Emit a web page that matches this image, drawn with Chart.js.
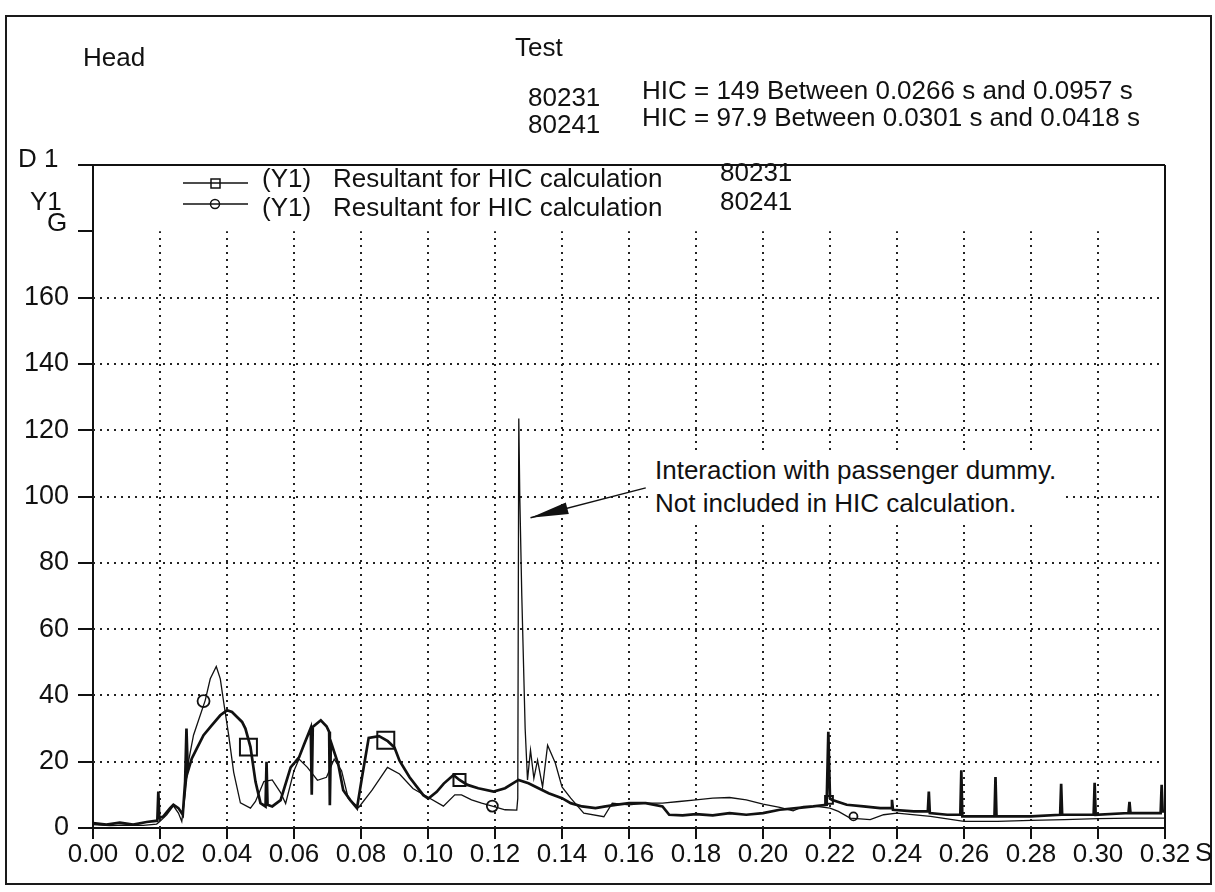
<!DOCTYPE html>
<html>
<head>
<meta charset="utf-8">
<title>Head - HIC resultant</title>
<script src="https://cdn.jsdelivr.net/npm/chart.js@4.4.1/dist/chart.umd.min.js"></script>
<style>
    body { margin: 0; background: #fff; }
    #wrap { position: relative; width: 1215px; height: 892px; background: #fff; overflow: hidden; }
    #chart { position: absolute; left: 0; top: 0; }
    .frame { position: absolute; left: 5px; top: 15px; width: 1203px; height: 866px; border: 2px solid #1a1a1a; }
    .t { position: absolute; font-family: "Liberation Sans", Arial, sans-serif; font-size: 26px; line-height: 26px; color: #111; white-space: nowrap; }
    .note { background: #fff; padding: 4px 6px 3px 6px; line-height: 33px; }
</style>
</head>
<body>
<div id="wrap">
    <canvas id="chart" width="1215" height="892"></canvas>
    <div class="frame"></div>

    <div class="t" style="left:83px; top:44px;">Head</div>
    <div class="t" style="left:515px; top:34px;">Test</div>
    <div class="t" style="left:528px; top:84px;">80231</div>
    <div class="t" style="left:642px; top:77px;">HIC = 149 Between 0.0266 s and 0.0957 s</div>
    <div class="t" style="left:528px; top:111px;">80241</div>
    <div class="t" style="left:642px; top:104px;">HIC = 97.9 Between 0.0301 s and 0.0418 s</div>

    <div class="t" style="left:18px; top:145px;">D 1</div>
    <div class="t" style="left:30px; top:188px;">Y1</div>
    <div class="t" style="left:47px; top:209px;">G</div>
    <div class="t" style="left:1195px; top:839px;">S</div>

    <div class="t" style="left:262px; top:165px;">(Y1)</div>
    <div class="t" style="left:333px; top:165px;">Resultant for HIC calculation</div>
    <div class="t" style="left:720px; top:159px;">80231</div>
    <div class="t" style="left:262px; top:194px;">(Y1)</div>
    <div class="t" style="left:333px; top:194px;">Resultant for HIC calculation</div>
    <div class="t" style="left:720px; top:188px;">80241</div>

    <div class="t note" style="left:649px; top:450px;">Interaction with passenger dummy.<br>Not included in HIC calculation.</div>
</div>

<script>
// Test 80231 - resultant head acceleration (s, G)
const t80231 = [0.000, 0.004, 0.008, 0.012, 0.016, 0.0192, 0.0195, 0.0198, 0.021, 0.023,
    0.024, 0.0255, 0.0268, 0.0275, 0.0279, 0.0283, 0.0295, 0.031, 0.033, 0.0355,
    0.038, 0.040, 0.0415, 0.043, 0.0445, 0.0455, 0.047, 0.0485, 0.050, 0.0515,
    0.0518, 0.0521, 0.0535, 0.056, 0.059, 0.0615, 0.063, 0.065, 0.0653, 0.0656,
    0.068, 0.0697, 0.0705, 0.0707, 0.071, 0.0732, 0.0747, 0.0768, 0.0788, 0.0803,
    0.0823, 0.0854, 0.088, 0.090, 0.0915, 0.0945, 0.0986, 0.1001, 0.1026, 0.1047,
    0.1076, 0.1094, 0.1118, 0.115, 0.1196, 0.123, 0.127, 0.130, 0.133, 0.136,
    0.140, 0.1426, 0.146, 0.150, 0.153, 0.156, 0.160, 0.165, 0.170, 0.172,
    0.176, 0.180, 0.185, 0.190, 0.195, 0.200, 0.205, 0.210, 0.215, 0.219,
    0.2195, 0.220, 0.2205, 0.225, 0.230, 0.235, 0.2383, 0.2385, 0.2388, 0.245,
    0.2492, 0.2495, 0.2498, 0.255, 0.2589, 0.2592, 0.2595, 0.265, 0.2691, 0.2694,
    0.2697, 0.280, 0.2887, 0.289, 0.2893, 0.2987, 0.299, 0.2993, 0.3091, 0.3094,
    0.3097, 0.3187, 0.319, 0.3193, 0.320];
const g80231 = [1.5, 1.0, 1.6, 1.0, 1.8, 2.2, 11, 3, 3.5, 6,
    7, 6, 4, 14, 30, 17, 21, 24, 28, 31,
    34, 35.5, 35, 33.5, 32, 30, 24.5, 14, 7.5, 6.5,
    20, 7, 6.5, 8.4, 18.3, 21.3, 25.2, 30.2, 10, 30.5,
    32.5, 30.7, 29, 6.9, 26, 19.3, 11.4, 8.4, 6, 15.3,
    27.2, 27.7, 26.2, 24.3, 20.3, 15.3, 9.9, 8.9, 10.9, 13.4,
    16, 14.5, 13, 12, 11, 12, 14.5, 13.5, 12, 10.5,
    9, 7.5, 6.5, 6, 6.5, 7, 7.5, 7.5, 6.5, 4,
    3.8, 4.2, 3.8, 4.5, 4, 4.5, 5.5, 6, 6.5, 7,
    29, 9, 8.5, 7, 6.5, 6, 6, 8.5, 5.5, 5,
    5, 11, 4.5, 4, 4, 17.4, 3.5, 3.5, 3.5, 15.4,
    3.5, 3.5, 4, 13.3, 4, 4, 13.6, 4, 4.5, 7.9,
    4.5, 4.5, 13, 5, 5];

// Test 80241 - resultant head acceleration (s, G)
const t80241 = [0.000, 0.005, 0.010, 0.015, 0.019, 0.020, 0.022, 0.024, 0.0255, 0.0265,
    0.0275, 0.0285, 0.030, 0.0335, 0.035, 0.0368, 0.038, 0.039, 0.0405, 0.042,
    0.044, 0.047, 0.0485, 0.051, 0.0535, 0.056, 0.0575, 0.060, 0.0615, 0.064,
    0.067, 0.0697, 0.072, 0.0742, 0.0762, 0.0793, 0.0833, 0.0879, 0.0915, 0.0955,
    0.0996, 0.1046, 0.108, 0.110, 0.113, 0.116, 0.1192, 0.123, 0.1265, 0.1268,
    0.1271, 0.1274, 0.128, 0.129, 0.1297, 0.1306, 0.1316, 0.1327, 0.1342, 0.1357,
    0.138, 0.140, 0.1426, 0.1465, 0.1525, 0.155, 0.160, 0.165, 0.170, 0.175,
    0.180, 0.185, 0.190, 0.195, 0.200, 0.205, 0.209, 0.212, 0.216, 0.220,
    0.2225, 0.226, 0.232, 0.236, 0.240, 0.250, 0.260, 0.270, 0.280, 0.290,
    0.300, 0.310, 0.320];
const g80241 = [1.0, 0.7, 0.9, 0.8, 1.2, 2, 4, 6.7, 4.5, 2,
    10, 20, 28, 38.5, 45, 48.7, 45, 38, 28, 16.8,
    7.6, 6, 8, 14, 14.5, 10.7, 7.4, 17.3, 20.8, 18.3,
    14.4, 15.3, 20.8, 17.3, 8.9, 6.2, 11.4, 18.3, 16.3, 11.9,
    9.5, 6.6, 10, 10, 8.5, 7.5, 6.6, 5.5, 5.4, 9,
    123.5, 100, 70, 30, 14.5, 23.5, 15, 20.5, 12.4, 25,
    19.6, 12.4, 9, 4.5, 3.4, 7.5, 7, 7.5, 7.5, 8,
    8.5, 9, 9.2, 8.5, 7.2, 6.2, 5.2, 6.5, 6.5, 6,
    5, 3, 2.5, 4, 4.5, 3.5, 2, 2, 2.3, 2.5,
    2.8, 3, 3];

// Symbol positions on each curve
const sqT = [0.0464, 0.0874, 0.1094, 0.2197];
const sqG = [24.4, 26.5, 14.5, 8.5];
const ciT = [0.033, 0.1192, 0.227];
const ciG = [38.3, 6.6, 3.5];

// Axis ticks and dotted grid
const gridX = [0.02, 0.04, 0.06, 0.08, 0.10, 0.12, 0.14, 0.16, 0.18, 0.20, 0.22, 0.24, 0.26, 0.28, 0.30];
const gridY = [20, 40, 60, 80, 100, 120, 140, 160];
const gridTop = 180;

// Annotation arrow (from text to the spike)
const arrowFrom = { x: 0.165, y: 102.6 };
const arrowTo = { x: 0.1306, y: 93.6 };

const ink = "#111";

function pts(xs, ys) {
    return xs.map((x, i) => ({ x: x, y: ys[i] }));
}

function drawLine(ctx, x1, y1, x2, y2) {
    ctx.beginPath();
    ctx.moveTo(x1, y1);
    ctx.lineTo(x2, y2);
    ctx.stroke();
}

// Grid, box, arrow and legend samples
const hicDecor = {
    id: "hicDecor",
    beforeDatasetsDraw(chart) {
        const { ctx, chartArea: a, scales: { x, y } } = chart;
        ctx.save();
        ctx.strokeStyle = "#222";
        ctx.lineWidth = 2;
        ctx.setLineDash([2, 5]);
        gridY.forEach(v => {
            const py = Math.round(y.getPixelForValue(v));
            drawLine(ctx, a.left, py, a.right, py);
        });
        gridX.forEach(v => {
            const px = Math.round(x.getPixelForValue(v));
            drawLine(ctx, px, y.getPixelForValue(0), px, y.getPixelForValue(gridTop));
        });
        ctx.restore();
    },
    afterDatasetsDraw(chart) {
        const { ctx, chartArea: a, scales: { x, y } } = chart;
        ctx.save();
        ctx.strokeStyle = ink;
        ctx.fillStyle = ink;
        ctx.lineWidth = 2;
        // top and right of the plot box
        drawLine(ctx, a.left, a.top, a.right, a.top);
        drawLine(ctx, a.right, a.top, a.right, a.bottom);

        // arrow
        const x1 = x.getPixelForValue(arrowFrom.x), y1 = y.getPixelForValue(arrowFrom.y);
        const x2 = x.getPixelForValue(arrowTo.x), y2 = y.getPixelForValue(arrowTo.y);
        ctx.lineWidth = 1.5;
        drawLine(ctx, x1, y1, x2, y2);
        const ang = Math.atan2(y1 - y2, x1 - x2);
        const len = 38, half = 6;
        const bx = x2 + Math.cos(ang) * len, by = y2 + Math.sin(ang) * len;
        ctx.beginPath();
        ctx.moveTo(x2, y2);
        ctx.lineTo(bx - Math.sin(ang) * half, by + Math.cos(ang) * half);
        ctx.lineTo(bx + Math.sin(ang) * half, by - Math.cos(ang) * half);
        ctx.closePath();
        ctx.fill();

        // legend samples
        ctx.lineWidth = 1.5;
        drawLine(ctx, 183, 183, 248, 183);
        ctx.strokeRect(211, 179, 9, 9);
        drawLine(ctx, 183, 204, 248, 204);
        ctx.beginPath();
        ctx.arc(215, 204, 4.5, 0, Math.PI * 2);
        ctx.stroke();
        ctx.restore();
    }
};

Chart.defaults.font.family = "'Liberation Sans', Arial, sans-serif";
Chart.defaults.color = ink;

const chartCanvas = document.getElementById("chart");
const hicChart = new Chart(chartCanvas.getContext("2d"), {
    type: "line",
    data: {
        datasets: [
            {
                label: "80231",
                data: pts(t80231, g80231),
                borderColor: ink,
                borderWidth: 2.7,
                pointRadius: 0,
                tension: 0
            },
            {
                label: "80241",
                data: pts(t80241, g80241),
                borderColor: ink,
                borderWidth: 1.3,
                pointRadius: 0,
                tension: 0
            },
            {
                label: "80231 symbols",
                data: pts(sqT, sqG),
                showLine: false,
                pointStyle: "rect",
                pointRadius: [12, 12, 8.5, 5.5],
                pointBorderWidth: 2,
                pointBorderColor: ink,
                pointBackgroundColor: "rgba(0,0,0,0)"
            },
            {
                label: "80241 symbols",
                data: pts(ciT, ciG),
                showLine: false,
                pointStyle: "circle",
                pointRadius: [6, 5.5, 4],
                pointBorderWidth: 1.8,
                pointBorderColor: ink,
                pointBackgroundColor: "rgba(0,0,0,0)"
            }
        ]
    },
    options: {
        responsive: false,
        animation: false,
        events: [],
        layout: { padding: { left: 0, top: 165, right: 50, bottom: 0 } },
        plugins: {
            legend: { display: false },
            tooltip: { enabled: false }
        },
        scales: {
            x: {
                type: "linear",
                min: 0,
                max: 0.32,
                afterFit: s => { s.height = 64; },
                grid: { drawOnChartArea: false, drawTicks: true, tickLength: 11, color: ink, lineWidth: 2 },
                border: { display: true, color: ink, width: 2 },
                ticks: {
                    stepSize: 0.02,
                    padding: 0,
                    maxRotation: 0,
                    autoSkip: false,
                    font: { size: 26 },
                    callback: v => v.toFixed(2)
                }
            },
            y: {
                min: 0,
                max: 200,
                afterFit: s => { s.width = 93; },
                grid: { drawOnChartArea: false, drawTicks: true, tickLength: 15, color: ink, lineWidth: 2 },
                border: { display: true, color: ink, width: 2 },
                ticks: {
                    stepSize: 20,
                    padding: 9,
                    autoSkip: false,
                    font: { size: 27 },
                    callback: v => (v <= 160 ? String(v) : "")
                }
            }
        }
    },
    plugins: [hicDecor]
});
</script>
</body>
</html>
